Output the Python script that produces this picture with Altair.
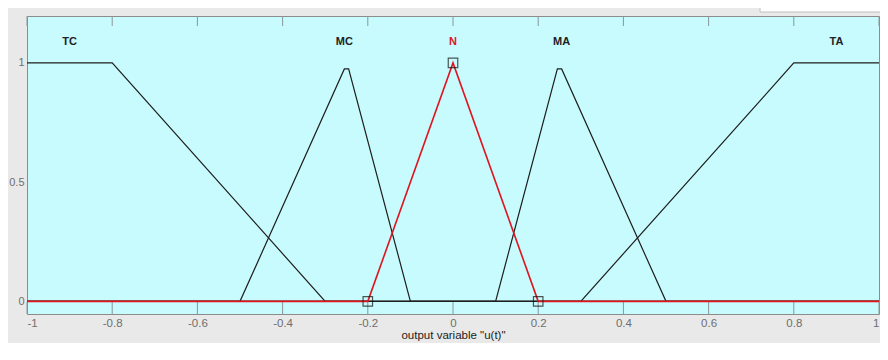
import altair as alt
import pandas as pd

# ---- data ----
x_ticks = [-1, -0.8, -0.6, -0.4, -0.2, 0, 0.2, 0.4, 0.6, 0.8, 1]
y_ticks = [0, 0.5, 1]

tc_x = [-1, -0.8, -0.3, 1]
tc_y = [1, 1, 0, 0]
mc_x = [-1, -0.5, -0.255, -0.245, -0.1, 1]
mc_y = [0, 0, 0.975, 0.975, 0, 0]
ma_x = [-1, 0.1, 0.245, 0.255, 0.5, 1]
ma_y = [0, 0, 0.975, 0.975, 0, 0]
ta_x = [-1, 0.3, 0.8, 1]
ta_y = [0, 0, 1, 1]
n_x = [-1, -0.2, 0, 0.2, 1]
n_y = [0, 0, 1, 0, 0]

marker_x = [-0.2, 0, 0.2]
marker_y = [0, 1, 0]

label_names = ["TC", "MC", "N", "MA", "TA"]
label_x = [-0.9, -0.255, 0, 0.255, 0.9]
label_y = [1.09, 1.09, 1.09, 1.09, 1.09]
label_col = ["#222222", "#222222", "#e0141e", "#222222", "#222222"]

# ---- tables ----
rows = []
for name, xs_, ys_ in [("TC", tc_x, tc_y), ("MC", mc_x, mc_y), ("MA", ma_x, ma_y), ("TA", ta_x, ta_y)]:
    for i, (a, b) in enumerate(zip(xs_, ys_)):
        rows.append({"mf": name, "x": a, "y": b, "o": i})
black_df = pd.DataFrame(rows)
red_df = pd.DataFrame({"x": n_x, "y": n_y, "o": list(range(len(n_x)))})
mark_df = pd.DataFrame({"x": marker_x, "y": marker_y})
lab_df = pd.DataFrame({"t": label_names, "x": label_x, "y": label_y, "c": label_col})
tick_df = pd.DataFrame({"x": x_ticks})

W, H = 852, 298
xs = alt.Scale(domain=[-1, 1], nice=False, zero=False)
ys = alt.Scale(domain=[-0.053, 1.197], nice=False, zero=False)

x_axis = alt.Axis(values=x_ticks, ticks=False, grid=False, domain=False,
                  labelExpr="toString(datum.value)", labelPadding=3,
                  labelColor="#6e6e6e", labelFontSize=11.5, labelFont="Liberation Sans",
                  title='output variable "u(t)"', titleFont="Liberation Sans",
                  titleFontSize=11.5, titleFontWeight="normal", titleColor="#222222",
                  titlePadding=1)
y_axis = alt.Axis(values=y_ticks, ticks=False, grid=False, domain=False,
                  labelExpr="toString(datum.value)", labelPadding=3,
                  labelColor="#6e6e6e", labelFontSize=11, labelFont="Liberation Sans",
                  title=None)

base_x = alt.X("x:Q", scale=xs, axis=x_axis)
base_y = alt.Y("y:Q", scale=ys, axis=y_axis)

black = alt.Chart(black_df).mark_line(color="#1e1e1e", strokeWidth=1.2).encode(
    x=base_x, y=base_y, detail="mf:N", order="o:Q")
red = alt.Chart(red_df).mark_line(color="#e0141e", strokeWidth=1.6).encode(
    x="x:Q", y="y:Q", order="o:Q")
markers = alt.Chart(mark_df).mark_point(shape="square", size=90, filled=False,
                                        color="#111111", strokeWidth=1.2).encode(
    x="x:Q", y="y:Q")
labels = alt.Chart(lab_df).mark_text(font="Liberation Sans", fontSize=11,
                                     fontWeight="bold").encode(
    x="x:Q", y="y:Q", text="t:N", color=alt.Color("c:N", scale=None))
top_ticks = alt.Chart(tick_df).mark_rule(color="#8a9698", strokeWidth=1).encode(
    x="x:Q", y=alt.value(0), y2=alt.value(10))
bot_ticks = alt.Chart(tick_df).mark_rule(color="#8a9698", strokeWidth=1).encode(
    x="x:Q", y=alt.value(H - 12), y2=alt.value(H))
box = alt.Chart(pd.DataFrame({"a": [0]})).mark_rect(
    fill="white", stroke="#c0c0c0", strokeWidth=1, clip=False).encode(
    x=alt.value(733), x2=alt.value(856), y=alt.value(-12), y2=alt.value(-4))

chart = alt.layer(top_ticks, bot_ticks, black, red, markers, labels, box).properties(
    width=W, height=H,
    autosize=alt.AutoSizeParams(type="none"),
    padding={"left": 19, "top": 8, "right": 1, "bottom": 29},
    background="#e9e9e9",
).configure_view(fill="#c8fbfd", stroke="#8c8c8c", strokeWidth=1)

chart.save("out.html", embed_options={"renderer": "svg", "actions": False})
